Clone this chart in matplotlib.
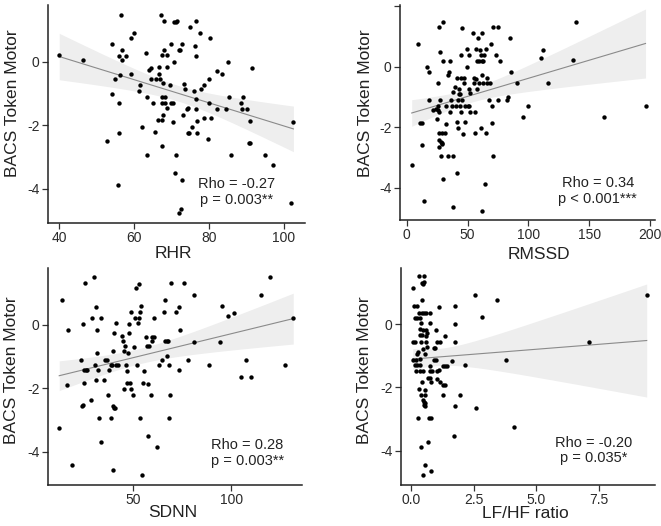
import numpy as np
import matplotlib
matplotlib.use("Agg")
import matplotlib.pyplot as plt

plt.rcParams['font.family'] = ['Liberation Sans', 'DejaVu Sans']

# ---------------- data ----------------
rhr_x = [40, 46.4, 54, 56.5, 54.2, 54.9, 55.9, 56.8, 56.8, 57.8, 56.2, 55.9, 56.1, 55.7, 52.7,
         59.2, 60, 59.3, 61.6, 61.4, 62, 63.3, 63.4, 63.4, 64, 64.4, 64.4, 65.2, 65.6, 65.9,
         66.3, 66.7, 66.8, 67.2, 67.5, 67, 67.4, 67.5, 67.8, 67.9, 68, 67.5, 67.8, 67.6, 68.2,
         68.2, 68.7, 68.7, 68.9, 69.5, 69.9, 69.9, 70.3, 70.4, 70.6, 70.8, 71.3, 71.6, 71.2, 70.9,
         72, 72.3, 72.8, 72.9, 72, 72.6, 73.4, 73.7, 73.2, 74.1, 74.3, 74.4, 74.8, 75, 75.5,
         76.1, 76.4, 76.6, 76.6, 76.6, 76.6, 76.7, 76.8, 77.6, 77.8, 78.7, 78.6, 79.7, 80, 80.1,
         80.3, 80.6, 82.2, 82.3, 83.4, 84.6, 85, 85.5, 85.8, 88.6, 89.2, 88.8, 90.3, 90.6, 91,
         91, 91.6, 94.9, 97.2, 101.9, 102.6]
rhr_y = [0.21, 0.05, 0.57, 1.49, -1.0, -0.55, 0.19, 0.37, 0.05, 0.19, -0.41, -1.31, -2.23, -3.88, -2.5,
         0.76, 0.92, -0.37, -0.73, -0.91, -2.05, 0.28, -1.11, -2.95, -0.26, -0.19, -0.55, -1.29, -2.2, -0.55,
         -1.84, -0.17, -0.4, 1.49, 0.21, -0.55, -1.1, -1.29, -0.68, 1.3, 0.37, -1.84, -1.68, -2.65, -1.1,
         -1.29, 0.21, -1.47, -0.17, -0.73, 0.56, -1.29, -1.29, -1.9, 0.0, 1.24, 1.27, 1.29, -2.95, -3.52,
         0.37, 0.37, 0.56, -3.72, -4.75, -4.63, -0.7, -0.86, -1.68, -1.48, -2.23, -1.45, -2.23, 1.11, -2.06,
         -0.91, 0.5, 1.3, -1.16, 0.19, -1.48, -1.87, -2.23, 0.92, -0.86, -0.73, -1.76, -2.42, -1.29, -0.55,
         0.76, -1.76, -1.48, -0.28, -0.4, -1.48, 0.0, -1.11, -2.95, -1.29, -1.11, -1.48, -1.48, -2.57, -2.57,
         -1.85, -0.19, -2.95, -3.25, -4.44, -1.9]

rmssd_x = [4.1, 9.6, 11, 12.3, 12.9, 14.2, 16.7, 18.1, 18.1, 21.9, 24.1, 25.2, 25.8, 25.5, 26,
           26.3, 26.3, 26.3, 26.8, 26.8, 27.7, 27.7, 27.9, 27.9, 29, 29.3, 29.6, 29.6, 30.1, 28.8,
           31.5, 32.3, 32.3, 34.2, 34.2, 34.8, 35.6, 35.6, 36.2, 37, 38.1, 37.8, 38.4, 39.7, 40.5,
           41.1, 41.6, 41.1, 41.9, 42.5, 43, 43.3, 43.8, 44.4, 43.8, 44.7, 44.7, 45.2, 45.8, 46,
           46.8, 47.1, 47.7, 48.2, 49.3, 49.9, 50.4, 50.9, 51.5, 51.2, 52.1, 52.1, 54.8, 54.9, 55.3,
           55.9, 56.4, 56.7, 57, 57.5, 57.8, 58.4, 59.2, 59.7, 60.5, 60.8, 60.8, 61.6, 61.6, 61.9,
           61.9, 62.5, 63, 63.6, 64.7, 64.9, 65.5, 66.3, 65.8, 67.9, 68.5, 69, 70.1, 70.4, 70.7,
           71.2, 73.2, 74.8, 75.3, 76.7, 82.7, 83.6, 85.2, 85.8, 91, 95.9, 100, 110.7, 112.3, 116.4,
           137, 139.2, 162.2, 196.2]
rmssd_y = [-3.25, 0.76, -1.87, -1.85, -2.59, -4.45, 0.0, -0.18, -1.09, -1.43, -1.39, -1.74, -0.55, -1.31, -1.43,
           -1.49, -2.2, -2.64, 1.3, -2.42, 0.5, -1.1, -2.48, -2.94, -2.57, -2.53, 1.49, -3.71, 0.19, -2.2,
           -2.2, -1.9, -1.3, -0.28, -2.94, -0.17, 0.19, -1.49, -1.1, -1.3, -2.94, -4.63, -0.83, -0.68, -1.3,
           -3.52, -0.36, -1.82, -1.09, -2.04, -0.75, -0.91, -1.3, -1.49, -0.91, 0.39, -0.36, -1.1, 1.27, -2.23,
           -0.53, -0.36, -1.84, -1.3, 0.57, 0.0, -1.3, 0.39, -1.3, -0.75, -0.88, -1.49, 1.12, -0.36, -0.55,
           -2.2, -1.49, 0.57, -0.42, 0.19, -0.75, 0.94, 0.19, -0.55, 0.55, -2.04, 0.39, 1.12, 0.19, -0.28,
           -4.76, -0.55, 0.19, 0.39, -3.89, -2.2, 0.57, -0.39, -0.55, -1.1, -0.55, 0.76, -1.3, -1.85, 1.3,
           -2.95, 0.39, 1.3, -1.1, 0.19, -1.1, -0.99, 0.94, -0.18, -0.55, -1.67, -1.3, 0.28, 0.55, -0.55,
           0.22, 1.49, -1.67, -1.3]

sdnn_x = [12.5, 13.9, 16.4, 17.1, 18.8, 23.6, 24.4, 24.1, 24.8, 24.9, 24.9, 25.8, 26, 26.8, 28.5,
          29.2, 30.2, 30.5, 31, 31.2, 31.5, 31.7, 32.2, 32.7, 33.6, 33.7, 35.1, 35.8, 36.6, 37.1,
          37.8, 38.6, 39, 39.5, 39.7, 40, 39.7, 40.3, 40.8, 40.5, 41.2, 41.2, 42.2, 44.6, 44.7,
          45.3, 45.4, 46.1, 46.3, 46.8, 47.1, 47.3, 47.8, 48.1, 48.6, 48.8, 49, 50.2, 50.5, 50.8,
          51.4, 51.9, 52.5, 52.9, 53.1, 53.6, 53.6, 53.9, 54.9, 54.7, 55.6, 56.4, 57.1, 57.5, 57.5,
          58.3, 59, 59.5, 59.8, 60.5, 60.8, 62.2, 63.1, 64.7, 65.6, 66.1, 66.3, 67.1, 67.1, 68,
          68.1, 68.5, 69, 69.3, 71.9, 73.2, 73.6, 74.1, 76.1, 78, 81.2, 81, 88.6, 94.1, 95.1,
          98.5, 101.5, 104.7, 107.3, 109.8, 115.3, 119.7, 127.5, 131.5]
sdnn_y = [-3.25, 0.78, -1.89, -0.16, -4.43, -1.1, 0.02, -2.57, -2.52, -1.82, -1.44, 1.31, -1.44, -1.42, -2.38,
          0.21, 1.51, -1.26, 0.55, -1.73, -0.89, -0.16, -1.44, -2.94, 0.21, -3.7, -1.73, -1.1, -1.1, -2.2,
          -1.44, -2.94, -1.26, -1.26, -2.57, -0.84, -4.59, -2.62, -2.62, -0.26, 0.07, -1.26, -1.26, -0.35, -0.52,
          -0.82, -2.03, -0.68, -1.26, -1.84, -1.45, -0.89, -0.26, 0.02, -1.82, 0.39, -2.03, -2.2, -0.71, 0.21,
          1.15, -1.26, 0.07, 1.28, 0.21, 0.39, -2.94, 0.58, -1.82, -4.72, -1.45, -0.37, -0.68, -1.86, -3.5,
          -0.68, -2.2, -0.52, -0.37, -0.37, 0.21, -3.86, -1.26, -1.1, 0.39, 0.78, -0.52, -0.52, -0.98, -0.52,
          -2.94, -1.26, -2.2, 1.31, 0.39, -1.44, 0.57, -0.16, 1.31, -1.12, 0.94, -0.54, -1.26, -0.54, 0.58,
          0.29, 0.37, -1.65, -1.1, -1.65, 0.94, 1.51, -1.26, 0.23]

lfhf_x = [0.07, 0.31, 0.5, 0.43, 0.49, 0.53, 0.44, 0.13, 0.24, 0.16, 0.25, 0.33, 0.43, 0.5, 0.61,
          0.77, 0.36, 0.39, 0.76, 1.0, 0.35, 0.47, 0.59, 0.35, 0.44, 0.65, 0.61, 0.07, 0.17, 0.4,
          0.61, 1.05, 1.17, 1.37, 0.62, 0.47, 0.28, 0.9, 0.97, 0.25, 0.54, 0.08, 0.2, 0.37, 0.92,
          1.0, 1.62, 0.16, 0.25, 0.36, 0.76, 1.28, 1.36, 1.44, 0.2, 0.36, 0.49, 0.76, 0.85, 1.02,
          1.12, 0.66, 0.76, 1.05, 0.78, 0.43, 1.16, 1.29, 1.34, 0.56, 0.33, 0.41, 0.57, 1.29, 1.97,
          0.49, 0.5, 0.56, 0.53, 0.57, 1.74, 2.58, 0.29, 0.72, 0.78, 4.09, 1.7, 0.68, 0.39, 0.57,
          0.78, 0.49, 1.74, 1.77, 1.77, 1.1, 2.55, 2.82, 3.44, 3.77, 2.14, 7.1, 9.4]
lfhf_y = [1.14, 1.51, 1.51, 1.29, 1.27, 1.32, 0.75, 0.56, 0.56, 0.19, 0.19, 0.35, 0.35, 0.35, 0.35,
          0.35, 0.19, 0.03, 0.05, -0.18, -0.16, -0.18, -0.18, -0.36, -0.36, -0.28, -0.39, -0.56, -0.56, -0.56,
          -0.56, -0.56, -0.56, -0.39, -0.71, -0.79, -0.87, -0.74, -0.74, -0.94, -0.94, -1.13, -1.13, -1.11, -1.13,
          -1.13, -1.16, -1.28, -1.28, -1.28, -1.31, -1.31, -1.31, -1.31, -1.49, -1.49, -1.49, -1.49, -1.49, -1.47,
          -1.44, -1.71, -1.71, -1.74, -1.84, -1.84, -1.84, -1.92, -1.92, -2.07, -2.05, -2.23, -2.23, -2.23, -2.23,
          -2.39, -2.47, -2.49, -2.55, -2.6, -2.6, -2.65, -2.97, -2.97, -2.97, -3.26, -3.53, -3.73, -3.89, -4.45,
          -4.65, -4.77, 0.56, 0.0, -0.56, 0.53, 0.93, 0.22, 0.75, -1.13, -1.28, -0.56, 0.93]

x_labels = ["RHR", "RMSSD", "SDNN", "LF/HF ratio"]
y_label = "BACS Token Motor"
stats_text = ["Rho = -0.27\np = 0.003**", "Rho = 0.34\np < 0.001***",
              "Rho = 0.28\np = 0.003**", "Rho = -0.20\np = 0.035*"]

# ---------------- layout ----------------
W, H = 661, 526
fig = plt.figure(figsize=(W / 100, H / 100), dpi=100)

def px_axes(left, top, right, bottom):
    return fig.add_axes([left / W, 1 - bottom / H, (right - left) / W, (bottom - top) / H])

panels = [
    dict(x=rhr_x, y=rhr_y, box=(48, 5, 305, 223), xlim=(37.0, 105.7), ylim=(-5.08, 1.79),
         xticks=[40, 60, 80, 100], xtl=["40", "60", "80", "100"], yticks=[-4, -2, 0], ytl=["-4", "-2", "0"],
         ylab=(-0.140, 0.548), xlab=(0.486, -0.105), txt=(0.735, 0.142)),
    dict(x=rmssd_x, y=rmssd_y, box=(400, 5, 655, 220), xlim=(-5.5, 204), ylim=(-5.07, 2.04),
         xticks=[0, 50, 100, 150, 200], xtl=["0", "50", "100", "150", "200"],
         yticks=[-4, -2, 0, 2], ytl=["-4", "-2", "0", ""],
         ylab=(-0.137, 0.542), xlab=(0.544, -0.125), txt=(0.775, 0.135)),
    dict(x=sdnn_x, y=sdnn_y, box=(48, 267.7, 301.7, 484.7), xlim=(6.8, 135.8), ylim=(-5.04, 1.8),
         xticks=[50, 100], xtl=["50", "100"], yticks=[-4, -2, 0], ytl=["-4", "-2", "0"],
         ylab=(-0.142, 0.53), xlab=(0.49, -0.092), txt=(0.786, 0.145)),
    dict(x=lfhf_x, y=lfhf_y, box=(401, 267.7, 655, 484.7), xlim=(-0.4, 9.73), ylim=(-5.07, 1.78),
         xticks=[0, 2.5, 5.0, 7.5], xtl=["0.0", "2.5", "5.0", "7.5"], yticks=[-4, -2, 0], ytl=["-4", "-2", "0"],
         ylab=(-0.142, 0.53), xlab=(0.49, -0.10), txt=(0.757, 0.158)),
]

for i, p in enumerate(panels):
    ax = px_axes(*p["box"])
    x = np.asarray(p["x"], float)
    y = np.asarray(p["y"], float)

    # OLS fit with 95% confidence band for the mean (as in a linear smoother)
    n = len(x)
    b, a = np.polyfit(x, y, 1)
    xs = np.linspace(x.min(), x.max(), 200)
    yhat = a + b * xs
    resid = y - (a + b * x)
    s = np.sqrt(np.sum(resid ** 2) / (n - 2))
    se = s * np.sqrt(1 / n + (xs - x.mean()) ** 2 / np.sum((x - x.mean()) ** 2))
    ax.fill_between(xs, yhat - 1.98 * se, yhat + 1.98 * se, color="#eeeeee", lw=0, zorder=1)
    ax.plot(xs, yhat, color="#8a8a8a", lw=0.8, zorder=2)

    ax.scatter(x, y, s=10, color="black", lw=0, zorder=3)

    ax.set_xlim(*p["xlim"])
    ax.set_ylim(*p["ylim"])
    ax.set_xticks(p["xticks"], p["xtl"])
    ax.set_yticks(p["yticks"], p["ytl"])
    for sp in ["top", "right"]:
        ax.spines[sp].set_visible(False)
    for sp in ["left", "bottom"]:
        ax.spines[sp].set_color("#222222")
        ax.spines[sp].set_linewidth(1.1)
    ax.tick_params(axis="both", labelsize=10, length=4, width=0.9, color="#333333",
                   labelcolor="#2a2a2a", pad=2)

    ax.set_xlabel(x_labels[i], fontsize=12.5, color="#222222")
    ax.set_ylabel(y_label, fontsize=12.5, color="#222222")
    ax.xaxis.set_label_coords(*p["xlab"])
    ax.yaxis.set_label_coords(*p["ylab"])
    ax.xaxis.label.set_va("top")
    ax.yaxis.label.set_va("center")

    ax.text(p["txt"][0], p["txt"][1], stats_text[i], transform=ax.transAxes,
            ha="center", va="center", fontsize=10.5, color="#222222", linespacing=1.15)

fig.savefig("out.png", dpi=100, facecolor="white")
